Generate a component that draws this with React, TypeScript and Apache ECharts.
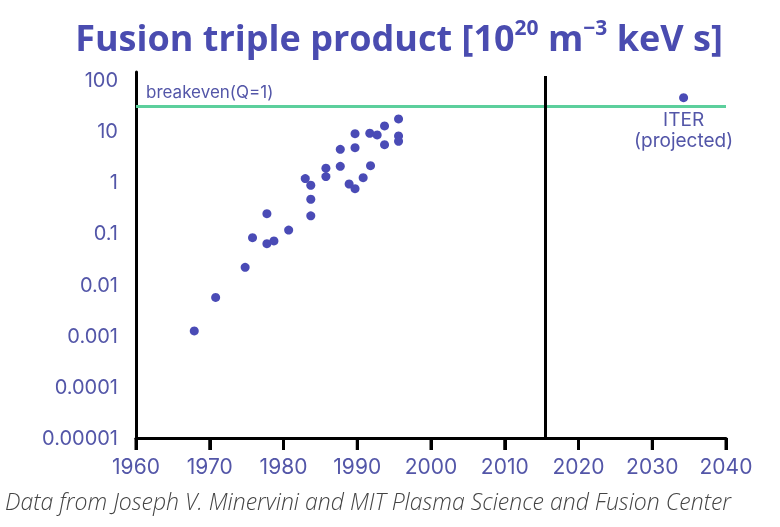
import React, { useEffect, useRef } from "react";
import * as echarts from "echarts";

const years = [1967.9, 1970.8, 1974.8, 1975.8, 1977.75, 1977.75, 1978.7, 1980.7, 1982.95, 1983.7, 1983.7, 1983.7, 1985.75, 1985.75, 1987.7, 1987.7, 1988.9, 1989.7, 1989.7, 1989.7, 1990.8, 1991.7, 1992.7, 1991.8, 1993.7, 1993.7, 1995.6, 1995.6, 1995.6];
const tripleProduct = [0.00124, 0.0056, 0.0217, 0.0825, 0.243, 0.063, 0.0711, 0.116, 1.18, 0.873, 0.465, 0.221, 1.88, 1.29, 4.41, 2.05, 0.925, 0.749, 8.9, 4.75, 1.23, 9.07, 8.41, 2.11, 12.6, 5.43, 17.3, 8.04, 6.33];
const iterYear = [2034.25];
const iterValue = [45];
const breakevenValue = 31;
const todayYear = 2015.5;
const yTickLabels = ["0.00001", "0.0001", "0.001", "0.01", "0.1", "1", "10", "100"];
const xTickValues = [1960, 1970, 1980, 1990, 2000, 2010, 2020, 2030, 2040];

const BLUE = "#4a4bb6";
const LABEL = "#5356a8";

export default function App() {
  const ref = useRef<HTMLDivElement>(null);
  useEffect(() => {
    if (!ref.current) return;
    const chart = echarts.init(ref.current, null, { renderer: "svg" });
    const pts = years.map((y, i) => [y, tripleProduct[i]]);
    const iterPts = iterYear.map((y, i) => [y, iterValue[i]]);
    const yMin = 0.00001;
    chart.setOption({
      animation: false,
      grid: { left: 136, right: 54, top: 72, bottom: 89 },
      xAxis: {
        type: "value",
        min: xTickValues[0],
        max: xTickValues[xTickValues.length - 1],
        interval: 10,
        axisLine: { show: true, onZero: false, lineStyle: { color: "#000", width: 3 } },
        axisTick: { show: true, length: 12, lineStyle: { color: "#000", width: 3 } },
        splitLine: { show: false },
        axisLabel: { color: LABEL, fontSize: 21, fontFamily: "Inter", margin: 18, formatter: (v: number) => String(v) },
      },
      yAxis: {
        type: "log",
        logBase: 10,
        min: yMin,
        max: 143,
        axisLine: { show: true, onZero: false, lineStyle: { color: "#000", width: 3 } },
        axisTick: { show: false },
        splitLine: { show: false },
        axisLabel: {
          color: LABEL,
          fontSize: 20,
          fontFamily: "Inter",
          margin: 18,
          showMaxLabel: false,
          formatter: (v: number) => {
            const l = Math.log10(v);
            const r = Math.round(l);
            if (Math.abs(l - r) > 0.01) return "";
            return yTickLabels[r + 5] ?? "";
          },
        },
      },
      series: [
        {
          type: "scatter",
          data: pts,
          symbolSize: 9,
          itemStyle: { color: BLUE, opacity: 1 },
          markLine: {
            silent: true,
            symbol: "none",
            data: [
              {
                yAxis: breakevenValue,
                lineStyle: { color: "#5ccf9c", width: 3, type: "solid" },
                label: {
                  show: true,
                  position: "insideStartTop",
                  formatter: "breakeven(Q=1)",
                  color: LABEL,
                  fontSize: 17,
                  fontFamily: "Inter",
                  distance: [10, 5],
                },
              },
              [
                { coord: [todayYear, yMin], lineStyle: { color: "#000", width: 3, type: "solid" }, label: { show: false } },
                { coord: [todayYear, 120] },
              ],
            ],
          },
        },
        {
          type: "scatter",
          data: iterPts,
          symbolSize: 9,
          itemStyle: { color: BLUE, opacity: 1 },
          label: {
            show: true,
            position: "bottom",
            distance: 7,
            formatter: "ITER\n(projected)",
            color: LABEL,
            fontSize: 19,
            lineHeight: 21,
            fontFamily: "Inter",
            align: "center",
          },
        },
      ],
      graphic: [
        {
          id: "title",
          type: "text",
          x: 399,
          y: 37,
          style: {
            text: "{m|Fusion triple product [10}{s|20}{m| m}{s|−3}{m| keV s]}",
            rich: {
              m: { fontSize: 36, fontWeight: 700, fontFamily: "Open Sans", fill: "#4a4cb0", lineHeight: 42 },
              s: { fontSize: 21, fontWeight: 700, fontFamily: "Open Sans", fill: "#4a4cb0", lineHeight: 42, verticalAlign: "top" },
            },
            textAlign: "center",
            textVerticalAlign: "middle",
          },
        },
        {
          id: "footer",
          type: "text",
          x: 5,
          y: 501,
          style: {
            text: "Data from Joseph V. Minervini and MIT Plasma Science and Fusion Center",
            fontSize: 23,
            fontStyle: "italic",
            fontWeight: 300,
            fontFamily: "Open Sans",
            fill: "#444",
            textAlign: "left",
            textVerticalAlign: "middle",
          },
        },
      ],
    });
    // Outward x tick marks (filled rects) placed through the grid's scales
    const ticks = xTickValues.map((v, i) => {
      const p = chart.convertToPixel({ gridIndex: 0 }, [v, yMin]) as number[];
      return {
        id: "tick" + i,
        type: "rect",
        shape: { x: p[0] - 1.5, y: p[1], width: 3, height: 12 },
        style: { fill: "#000" },
        z: 10,
      };
    });
    chart.setOption({ graphic: ticks });
    return () => chart.dispose();
  }, []);
  return <div ref={ref} style={{ position: "fixed", left: 0, top: 0, width: 780, height: 527 }} />;
}
